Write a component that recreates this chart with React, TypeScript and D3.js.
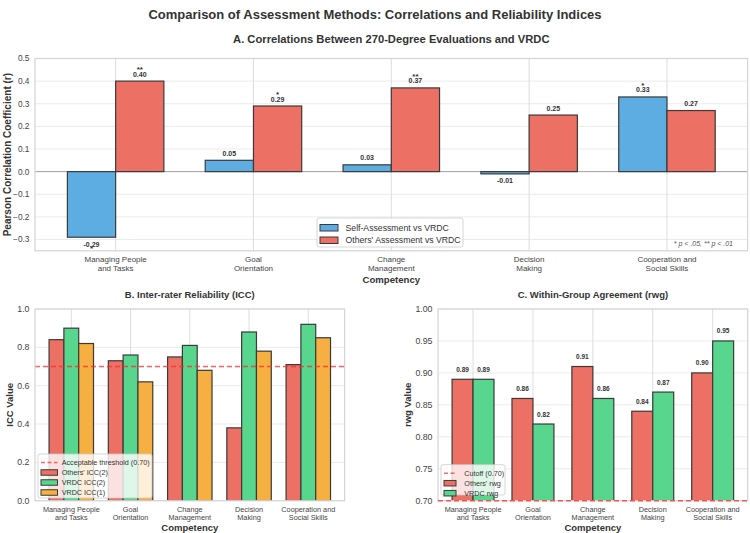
import React from "react";
import * as d3 from "d3";

const categories = [
  ["Managing People", "and Tasks"],
  ["Goal", "Orientation"],
  ["Change", "Management"],
  ["Decision", "Making"],
  ["Cooperation and", "Social Skills"],
];

const selfCorr = [-0.29, 0.05, 0.03, -0.01, 0.33];
const othersCorr = [0.4, 0.29, 0.37, 0.25, 0.27];
const selfSig = ["*", "", "", "", "*"];
const othersSig = ["**", "*", "**", "", ""];
const corrTicks = [-0.3, -0.2, -0.1, 0.0, 0.1, 0.2, 0.3, 0.4, 0.5];

const othersICC2 = [0.84, 0.73, 0.75, 0.38, 0.71];
const vrdcICC2 = [0.9, 0.76, 0.81, 0.88, 0.92];
const vrdcICC1 = [0.82, 0.62, 0.68, 0.78, 0.85];
const iccTicks = [0.0, 0.2, 0.4, 0.6, 0.8, 1.0];
const iccThreshold = 0.7;

const othersRwg = [0.89, 0.86, 0.91, 0.84, 0.9];
const vrdcRwg = [0.89, 0.82, 0.86, 0.87, 0.95];
const rwgTicks = [0.7, 0.75, 0.8, 0.85, 0.9, 0.95, 1.0];
const rwgCutoff = 0.7;

const FONT = "'Liberation Sans', Arial, Helvetica, sans-serif";
const BLUE = "#5DADE2";
const RED = "#EC7063";
const GREEN = "#58D68D";
const ORANGE = "#F5B041";
const EDGE = "#3a3a3a";
const TXT = "#333";
const TICK = "#444";
const GRID_H = "#ebebeb";
const GRID_V = "#dddddd";
const SPINE = "#d4d4d4";

type Scale = d3.ScaleLinear<number, number>;

function Frame({
  id,
  x,
  y,
  ticks,
  fmt,
  tickFs,
  catFs,
}: {
  id: string;
  x: Scale;
  y: Scale;
  ticks: number[];
  fmt: (n: number) => string;
  tickFs: number;
  catFs: number;
}) {
  const [x0, x1] = x.range();
  const [yb, yt] = y.range();
  return (
    <g>
      <clipPath id={id}>
        <rect x={x0} y={yt} width={x1 - x0} height={yb - yt} />
      </clipPath>
      {ticks.map((t) => (
        <line key={"h" + t} x1={x0} x2={x1} y1={y(t)} y2={y(t)} stroke={GRID_H} strokeWidth={1} />
      ))}
      {categories.map((_, i) => (
        <line key={"v" + i} x1={x(i)} x2={x(i)} y1={yt} y2={yb} stroke={GRID_V} strokeWidth={1} />
      ))}
      {ticks.map((t) => (
        <text
          key={"t" + t}
          x={x0 - 5.5}
          y={y(t) + tickFs * 0.35}
          textAnchor="end"
          fontSize={tickFs}
          fill={TICK}
          fontFamily={FONT}
        >
          {fmt(t)}
        </text>
      ))}
      {categories.map((c, i) => (
        <text key={"c" + i} x={x(i)} y={yb + 11} textAnchor="middle" fontSize={catFs} fill={TICK} fontFamily={FONT}>
          <tspan x={x(i)}>{c[0]}</tspan>
          <tspan x={x(i)} dy={catFs * 1.12}>
            {c[1]}
          </tspan>
        </text>
      ))}
    </g>
  );
}

function Spines({ x, y }: { x: Scale; y: Scale }) {
  const [x0, x1] = x.range();
  const [yb, yt] = y.range();
  return <rect x={x0} y={yt} width={x1 - x0} height={yb - yt} fill="none" stroke={SPINE} strokeWidth={1.2} />;
}

function Bars({
  id,
  x,
  y,
  values,
  offset,
  width,
  color,
  base,
}: {
  id: string;
  x: Scale;
  y: Scale;
  values: number[];
  offset: number;
  width: number;
  color: string;
  base: number;
}) {
  return (
    <g clipPath={`url(#${id})`}>
      {values.map((v, i) => {
        const xl = x(i + offset - width / 2);
        const xr = x(i + offset + width / 2);
        const y1 = y(Math.max(v, base));
        const y2 = y(Math.min(v, base));
        return (
          <rect
            key={i}
            x={xl}
            y={y1}
            width={xr - xl}
            height={Math.max(y2 - y1, 0.5)}
            fill={color}
            stroke={EDGE}
            strokeWidth={1.2}
          />
        );
      })}
    </g>
  );
}

function Legend({
  x,
  y,
  w,
  h,
  items,
  fs,
  rowH,
  handleW,
  handleH,
  textDx,
}: {
  x: number;
  y: number;
  w: number;
  h: number;
  items: { label: string; color: string; kind: "patch" | "line" }[];
  fs: number;
  rowH: number;
  handleW: number;
  handleH: number;
  textDx: number;
}) {
  const pad = 3;
  return (
    <g>
      <rect x={x} y={y} width={w} height={h} rx={2} fill="white" fillOpacity={0.8} stroke="#cccccc" strokeWidth={0.8} />
      {items.map((it, i) => {
        const cy = y + pad + rowH / 2 + i * rowH + 0.5;
        return (
          <g key={i}>
            {it.kind === "patch" ? (
              <rect
                x={x + 3}
                y={cy - handleH / 2}
                width={handleW}
                height={handleH}
                fill={it.color}
                stroke={EDGE}
                strokeWidth={1}
              />
            ) : (
              <line
                x1={x + 3}
                x2={x + 3 + handleW}
                y1={cy}
                y2={cy}
                stroke={it.color}
                strokeOpacity={0.7}
                strokeWidth={1.5}
                strokeDasharray="4,2.5"
              />
            )}
            <text x={x + textDx} y={cy + fs * 0.35} fontSize={fs} fill={TXT} fontFamily={FONT}>
              {it.label}
            </text>
          </g>
        );
      })}
    </g>
  );
}

export default function App() {
  // Panel A
  const xA = d3.scaleLinear().domain([-0.585, 4.585]).range([35, 747.6]);
  const yA = d3.scaleLinear().domain([-0.35, 0.5]).range([250.8, 58.5]);
  // Panel B
  const xB = d3.scaleLinear().domain([-0.6125, 4.6125]).range([35, 344.6]);
  const yB = d3.scaleLinear().domain([0, 1]).range([500.7, 309]);
  // Panel C
  const xC = d3.scaleLinear().domain([-0.585, 4.585]).range([438, 747.7]);
  const yC = d3.scaleLinear().domain([0.7, 1.0]).range([500.7, 309]);

  const f1 = d3.format(".1f");
  const f2 = d3.format(".2f");

  const corrLabels = (vals: number[], sig: string[], offset: number) =>
    vals.map((v, i) => {
      const cx = xA(i + offset);
      const pos = v >= 0;
      const yb = pos ? yA(v) - 4.5 : yA(v) + 9.5;
      return (
        <g key={i}>
          <text x={cx} y={yb} textAnchor="middle" fontSize={7} fontWeight="bold" fill={TXT} fontFamily={FONT}>
            {f2(v).replace("\u2212", "-")}
          </text>
          {sig[i] ? (
            <text
              x={cx}
              y={pos ? yb - 4.5 : yb + 4.5}
              textAnchor="middle"
              fontSize={8}
              fontWeight="bold"
              fill={TXT}
              fontFamily={FONT}
            >
              {sig[i]}
            </text>
          ) : null}
        </g>
      );
    });

  const rwgLabels = (vals: number[], offset: number) =>
    vals.map((v, i) => (
      <text
        key={i}
        x={xC(i + offset)}
        y={yC(v) - 7.5}
        textAnchor="middle"
        fontSize={6.5}
        fontWeight="bold"
        fill={TXT}
        fontFamily={FONT}
      >
        {f2(v)}
      </text>
    ));

  return (
    <svg
      width={750}
      height={533}
      style={{ position: "absolute", left: 0, top: 0, background: "white" }}
      fontFamily={FONT}
    >
      <rect width={750} height={533} fill="white" />
      <text x={375} y={18.5} textAnchor="middle" fontSize={13} fontWeight="bold" fill={TXT}>
        Comparison of Assessment Methods: Correlations and Reliability Indices
      </text>

      {/* Panel A */}
      <text x={391.3} y={43} textAnchor="middle" fontSize={11.2} fontWeight="bold" fill={TXT}>
        A. Correlations Between 270-Degree Evaluations and VRDC
      </text>
      <Frame id="clipA" x={xA} y={yA} ticks={corrTicks} fmt={f1} tickFs={8.3} catFs={8} />
      <line x1={35} x2={747.6} y1={yA(0)} y2={yA(0)} stroke="#9a9a9a" strokeWidth={0.9} />
      <Bars id="clipA" x={xA} y={yA} values={selfCorr} offset={-0.175} width={0.35} color={BLUE} base={0} />
      <Bars id="clipA" x={xA} y={yA} values={othersCorr} offset={0.175} width={0.35} color={RED} base={0} />
      <Spines x={xA} y={yA} />
      {corrLabels(selfCorr, selfSig, -0.175)}
      {corrLabels(othersCorr, othersSig, 0.175)}
      <text x={733} y={245.5} textAnchor="end" fontSize={7} fontStyle="italic" fill="#555">
        * p &lt; .05, ** p &lt; .01
      </text>
      <Legend
        x={317}
        y={218}
        w={146}
        h={29}
        fs={8.7}
        rowH={12.5}
        handleW={18}
        handleH={6.5}
        textDx={28.5}
        items={[
          { label: "Self-Assessment vs VRDC", color: BLUE, kind: "patch" },
          { label: "Others' Assessment vs VRDC", color: RED, kind: "patch" },
        ]}
      />
      <text
        transform={`translate(11,${(58.5 + 250.8) / 2}) rotate(-90)`}
        textAnchor="middle"
        fontSize={10}
        fontWeight="bold"
        fill={TXT}
      >
        Pearson Correlation Coefficient (r)
      </text>
      <text x={391.3} y={283} textAnchor="middle" fontSize={9.6} fontWeight="bold" fill={TXT}>
        Competency
      </text>

      {/* Panel B */}
      <text x={189.8} y={297.5} textAnchor="middle" fontSize={9.5} fontWeight="bold" fill={TXT}>
        B. Inter-rater Reliability (ICC)
      </text>
      <Frame id="clipB" x={xB} y={yB} ticks={iccTicks} fmt={f1} tickFs={8.8} catFs={7.3} />
      <Bars id="clipB" x={xB} y={yB} values={othersICC2} offset={-0.25} width={0.25} color={RED} base={0} />
      <Bars id="clipB" x={xB} y={yB} values={vrdcICC2} offset={0} width={0.25} color={GREEN} base={0} />
      <Bars id="clipB" x={xB} y={yB} values={vrdcICC1} offset={0.25} width={0.25} color={ORANGE} base={0} />
      <line
        x1={35}
        x2={344.6}
        y1={yB(iccThreshold)}
        y2={yB(iccThreshold)}
        stroke="#ff2a2a"
        strokeOpacity={0.75}
        strokeWidth={1.5}
        strokeDasharray="5,3"
      />
      <Spines x={xB} y={yB} />
      <Legend
        x={38}
        y={454}
        w={114}
        h={44}
        fs={7.2}
        rowH={10}
        handleW={16.5}
        handleH={5.5}
        textDx={23.7}
        items={[
          { label: "Acceptable threshold (0.70)", color: "#ff2a2a", kind: "line" },
          { label: "Others' ICC(2)", color: RED, kind: "patch" },
          { label: "VRDC ICC(2)", color: GREEN, kind: "patch" },
          { label: "VRDC ICC(1)", color: ORANGE, kind: "patch" },
        ]}
      />
      <text
        transform={`translate(13,${(309 + 500.7) / 2}) rotate(-90)`}
        textAnchor="middle"
        fontSize={9.5}
        fontWeight="bold"
        fill={TXT}
      >
        ICC Value
      </text>
      <text x={189.8} y={530.5} textAnchor="middle" fontSize={9.5} fontWeight="bold" fill={TXT}>
        Competency
      </text>

      {/* Panel C */}
      <text x={592.9} y={297.5} textAnchor="middle" fontSize={9.5} fontWeight="bold" fill={TXT}>
        C. Within-Group Agreement (rwg)
      </text>
      <Frame id="clipC" x={xC} y={yC} ticks={rwgTicks} fmt={f2} tickFs={8.8} catFs={7.3} />
      <Bars id="clipC" x={xC} y={yC} values={othersRwg} offset={-0.175} width={0.35} color={RED} base={0.6} />
      <Bars id="clipC" x={xC} y={yC} values={vrdcRwg} offset={0.175} width={0.35} color={GREEN} base={0.6} />
      <Spines x={xC} y={yC} />
      <line
        x1={438}
        x2={747.7}
        y1={yC(rwgCutoff)}
        y2={yC(rwgCutoff)}
        stroke="#ff2a2a"
        strokeOpacity={0.75}
        strokeWidth={1.5}
        strokeDasharray="5,3"
      />
      {rwgLabels(othersRwg, -0.175)}
      {rwgLabels(vrdcRwg, 0.175)}
      <Legend
        x={441}
        y={464.7}
        w={64}
        h={30.3}
        fs={7.2}
        rowH={10}
        handleW={12}
        handleH={5.5}
        textDx={23.3}
        items={[
          { label: "Cutoff (0.70)", color: "#ff2a2a", kind: "line" },
          { label: "Others' rwg", color: RED, kind: "patch" },
          { label: "VRDC rwg", color: GREEN, kind: "patch" },
        ]}
      />
      <text
        transform={`translate(411,${(309 + 500.7) / 2}) rotate(-90)`}
        textAnchor="middle"
        fontSize={9.5}
        fontWeight="bold"
        fill={TXT}
      >
        rwg Value
      </text>
      <text x={592.9} y={530.5} textAnchor="middle" fontSize={9.5} fontWeight="bold" fill={TXT}>
        Competency
      </text>
    </svg>
  );
}
